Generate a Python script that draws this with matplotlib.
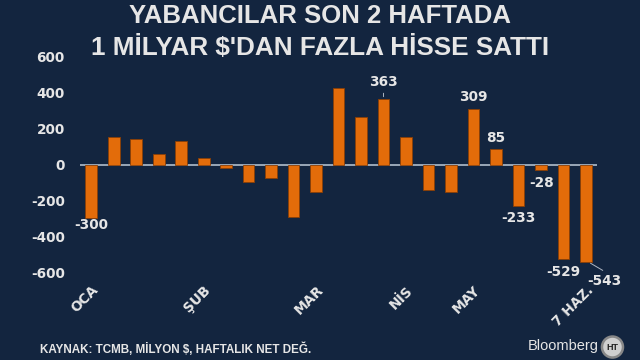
import numpy as np
import matplotlib.pyplot as plt
from matplotlib.patches import Circle

plt.rcParams['axes.unicode_minus'] = False

# haftalık net yabancı hisse alım/satımı (milyon $)
values = [-300, 156, 145, 61, 132, 37, -22, -100, -76, -293, -156,
          426, 264, 363, 156, -145, -156, 309, 85, -233, -28, -529, -543]
month_idx = [0, 5, 10, 14, 17, 22]
month_labels = ['OCA', 'ŞUB', 'MAR', 'NİS', 'MAY', '7 HAZ.']
# etiketli haftalar: (indeks, x ofset px, y ofset px)
labeled = {0: (0, -7), 13: (0, 17), 17: (0, 12), 18: (0, 11),
           19: (0, -12), 20: (1, -13), 21: (0, -13), 22: (18, -19)}

bg = '#13253f'
txt = '#e6e6e6'
orange = '#e36c0a'

fig = plt.figure(figsize=(6.4, 3.6), dpi=100, facecolor=bg)
ax = fig.add_axes([0.125, 0.2444, 0.808, 0.5973])
ax.set_facecolor(bg)

x = np.arange(len(values))
bars = ax.bar(x, values, width=0.52, color=orange, edgecolor='#8a3f06', linewidth=0.6, zorder=3)
ax.axhline(0, color='#9aa8b8', lw=1.4, zorder=2)

ax.set_xlim(-0.5, len(values) - 0.5)
ax.set_ylim(-600, 600)
ax.set_yticks([-600, -400, -200, 0, 200, 400, 600])
ax.tick_params(axis='y', length=0, pad=11, colors=txt, labelsize=9.8)
for lab in ax.get_yticklabels():
    lab.set_fontweight('bold')
ax.set_xticks(month_idx)
ax.set_xticklabels(month_labels, rotation=45, ha='right', rotation_mode='anchor',
                   fontsize=9.8, fontweight='bold', color=txt)
ax.tick_params(axis='x', length=0, pad=8)
for s in ax.spines.values():
    s.set_visible(False)

for i, (dx, dy) in labeled.items():
    v = values[i]
    if i == 13:
        ax.annotate('', xy=(i, v), xytext=(0, 9), textcoords='offset pixels',
                    arrowprops=dict(arrowstyle='-', color='#b0b8c4', lw=0.7))
    if i == 22:
        ax.annotate('', xy=(i + 0.1, v), xytext=(dx - 1, -10), textcoords='offset pixels',
                    arrowprops=dict(arrowstyle='-', color='#b0b8c4', lw=0.7))
    ax.annotate('{}'.format(v), xy=(i, v), xytext=(dx, dy), textcoords='offset pixels',
                ha='center', va='center', fontsize=9.8, fontweight='bold', color=txt,
                annotation_clip=False)

fig.text(0.5, 0.955, 'YABANCILAR SON 2 HAFTADA', ha='center', va='center',
         family='Liberation Sans', fontweight='bold', fontsize=18.5, color=txt)
fig.text(0.5, 0.867, "1 MİLYAR $'DAN FAZLA HİSSE SATTI", ha='center', va='center',
         family='Liberation Sans', fontweight='bold', fontsize=18.8, color=txt)
fig.text(0.0625, 0.031, 'KAYNAK: TCMB, MİLYON $, HAFTALIK NET DEĞ.', ha='left', va='center',
         family='Liberation Sans', fontweight='bold', fontsize=8.4, color=txt)
fig.text(0.935, 0.038, 'Bloomberg', ha='right', va='center',
         family='Liberation Sans', fontsize=10.5, color=txt)
logo = Circle((0.957 * 640, 0.036 * 360), 10.5, transform=None, facecolor='#cfcfcf',
              edgecolor='#888888', lw=1.8)
fig.patches.append(logo)
fig.text(0.957, 0.036, 'HT', ha='center', va='center', family='Liberation Sans',
         fontweight='bold', fontsize=6.5, color='#222222')

fig.savefig('out.png', dpi=100, facecolor=bg)
